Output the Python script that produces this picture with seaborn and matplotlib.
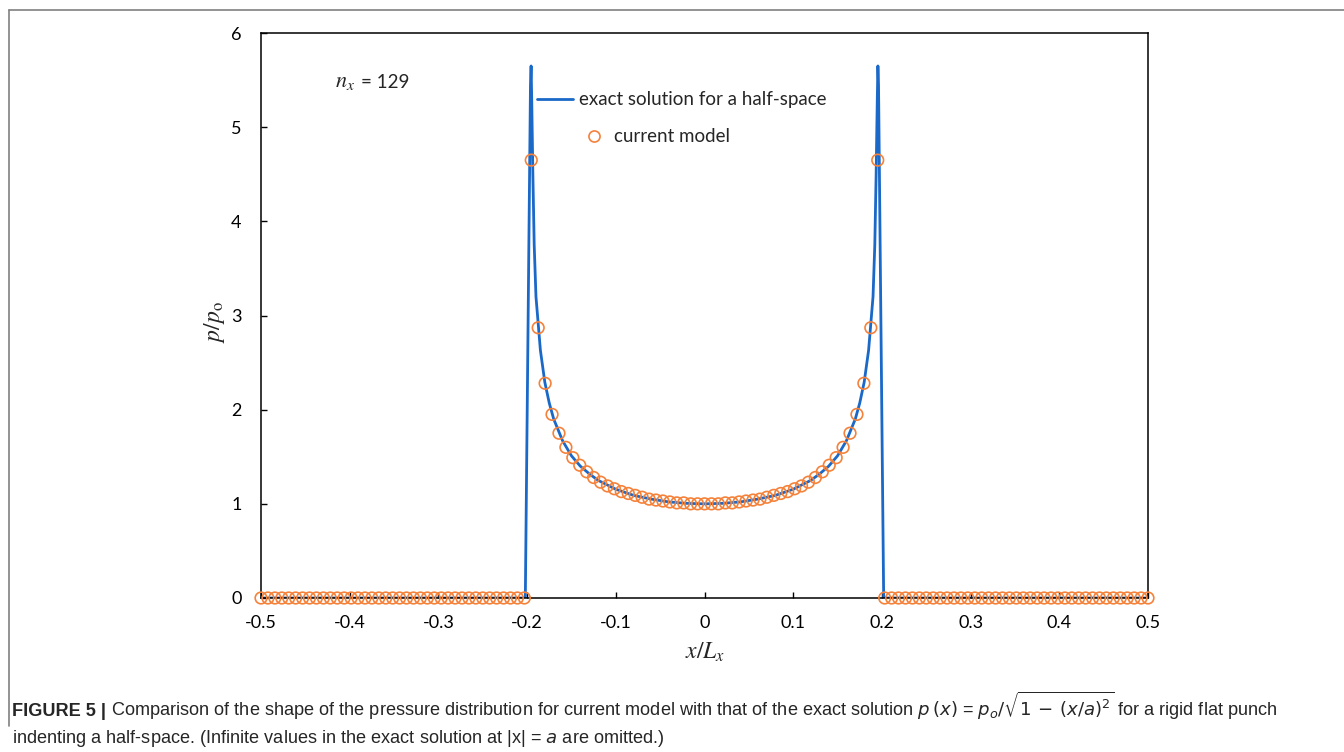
import numpy as np
import pandas as pd
import matplotlib.pyplot as plt
import seaborn as sns
from matplotlib import font_manager
from matplotlib.lines import Line2D

# grid of the current model (n_x = 129 nodes across -0.5..0.5)
x_model = np.linspace(-0.5, 0.5, 129)
# p/p0: zeros outside the punch, bowl inside
y_outside = [0.0] * 39
y_inside = [4.65, 2.87, 2.28, 1.95, 1.75, 1.60, 1.49, 1.41, 1.34, 1.28,
            1.23, 1.19, 1.16, 1.13, 1.11, 1.09, 1.07, 1.05, 1.04, 1.03,
            1.02, 1.01, 1.01, 1.00, 1.00, 1.00, 1.00, 1.00, 1.01, 1.01,
            1.02, 1.03, 1.04, 1.05, 1.07, 1.09, 1.11, 1.13, 1.16, 1.19,
            1.23, 1.28, 1.34, 1.41, 1.49, 1.60, 1.75, 1.95, 2.28, 2.87,
            4.65]
y_model = y_outside + y_inside + y_outside

# exact half-space solution
x_exact = [-0.5, -0.202, -0.1962, -0.1955, -0.1948, -0.1935, -0.192, -0.19,
           -0.185, -0.18, -0.175, -0.17, -0.16, -0.15, -0.14, -0.13, -0.12,
           -0.10, -0.08, -0.06, -0.04, -0.02, 0.0,
           0.02, 0.04, 0.06, 0.08, 0.10, 0.12, 0.13, 0.14, 0.15, 0.16, 0.17,
           0.175, 0.18, 0.185, 0.19, 0.192, 0.1935, 0.1948, 0.1955, 0.1962,
           0.202, 0.5]
y_exact = [0.0, 0.0, 5.45, 5.65, 5.30, 4.50, 3.75, 3.20,
           2.63, 2.29, 2.07, 1.90, 1.67, 1.51, 1.40, 1.32, 1.25,
           1.155, 1.09, 1.05, 1.02, 1.005, 1.0,
           1.005, 1.02, 1.05, 1.09, 1.155, 1.25, 1.32, 1.40, 1.51, 1.67, 1.90,
           2.07, 2.29, 2.63, 3.20, 3.75, 4.50, 5.30, 5.65, 5.45,
           0.0, 0.0]

x_ticks = [-0.5, -0.4, -0.3, -0.2, -0.1, 0.0, 0.1, 0.2, 0.3, 0.4, 0.5]
y_ticks = [0, 1, 2, 3, 4, 5, 6]

df_model = pd.DataFrame({"x": x_model, "p": y_model})
df_exact = pd.DataFrame({"x": x_exact, "p": y_exact})

sns.set_style("white")
plt.rcParams["font.family"] = ["Lato", "DejaVu Sans"]
plt.rcParams["mathtext.fontset"] = "stix"

W, H = 1344, 752
fig = plt.figure(figsize=(W / 100, H / 100), dpi=100)
ax = fig.add_axes([261 / W, 1 - 598 / H, (1148 - 261) / W, (598 - 33) / H])

blue = "#1a68c8"
orange = "#f5823a"

sns.lineplot(data=df_exact, x="x", y="p", ax=ax, sort=False, estimator=None,
             color=blue, lw=2.0, legend=False, solid_joinstyle="round")
sns.scatterplot(data=df_model, x="x", y="p", ax=ax, marker="o", s=70,
                facecolor="none", edgecolor=orange, linewidth=1.2,
                clip_on=False, zorder=3, legend=False)

ax.set_xlim(-0.5, 0.5)
ax.set_ylim(0, 6)
ax.set_xticks(x_ticks)
ax.set_xticklabels([f"{t:g}" for t in x_ticks])
ax.set_yticks(y_ticks)
ax.tick_params(direction="in", length=4, width=1, colors="black",
               labelsize=13, top=False, right=False, bottom=True, left=True)
ax.tick_params(axis="x", pad=12)
ax.tick_params(axis="y", pad=14)
for s in ax.spines.values():
    s.set_color("black")
    s.set_linewidth(1.1)

ax.set_xlabel("")
ax.set_ylabel("")
fig.text(705 / W, 1 - 652 / H, r"$x/L_x$", fontsize=17, ha="center", va="center")
fig.text(215 / W, 1 - 322 / H, r"$p/p_\mathrm{o}$", fontsize=17, ha="center",
         va="center", rotation=90)
ax.text((335 - 261) / 886, (598 - 82) / 565, r"$n_x$", fontsize=16,
        transform=ax.transAxes, va="center", ha="left")
ax.text((361 - 261) / 886, (598 - 82) / 565, "= 129", fontsize=13.5,
        transform=ax.transAxes, va="center", ha="left")

# legend, two pieces so the marker sits where it does in the original
h_line = Line2D([], [], color=blue, lw=2.0)
h_mark = Line2D([], [], ls="none", marker="o", ms=8, mfc="none",
                mec=orange, mew=1.2)
leg1 = ax.legend([h_line], ["exact solution for a half-space"], loc="center left",
                 bbox_to_anchor=((537 - 261) / 886, (598 - 100) / 565),
                 frameon=False, fontsize=13.5, handlelength=1.9,
                 handletextpad=0.35, borderpad=0, borderaxespad=0)
ax.add_artist(leg1)
ax.legend([h_mark], ["current model"], loc="center left",
          bbox_to_anchor=((576 - 261) / 886, (598 - 137) / 565),
          frameon=False, fontsize=13.5, handlelength=1.9,
          handletextpad=0.1, borderpad=0, borderaxespad=0)

# outer frame of the figure panel
fig.add_artist(Line2D([9 / W, 1.0], [1 - 10 / H, 1 - 10 / H], color="#808080", lw=1.2))
fig.add_artist(Line2D([9 / W, 9 / W], [1 - 10 / H, 1 - 726 / H], color="#808080", lw=1.2))

# caption
names = {f.name for f in font_manager.fontManager.ttflist}
cap_font = "Liberation Sans Narrow" if "Liberation Sans Narrow" in names else "Liberation Sans"
cap_size = 11.5 if cap_font == "Liberation Sans Narrow" else 10.0

t1 = fig.text(12 / W, 1 - 716 / H, "FIGURE 5 |", family=cap_font, weight="bold",
              fontsize=cap_size, va="baseline")
cap1 = ("Comparison of the shape of the pressure distribution for current model with "
        "that of the exact solution $p\\,(x)$ = $p_o/\\sqrt{1\\,-\\,(x/a)^2}$ "
        "for a rigid flat punch")
cap2 = ("indenting a half-space. (Infinite values in the exact solution at "
        "|x| = $a$ are omitted.)")
fig.canvas.draw()
bb = t1.get_window_extent()
t2 = fig.text((bb.x1 + 5) / W, 1 - 716 / H, cap1, family=cap_font, fontsize=cap_size,
              va="baseline", math_fontfamily="dejavusans")
t3 = fig.text(12 / W, 1 - 743 / H, cap2, family=cap_font, fontsize=cap_size,
              va="baseline", math_fontfamily="dejavusans")

# scale caption so the first line ends where it does in the original
fig.canvas.draw()
right = t2.get_window_extent().x1
scale = (1281 - 12) / (right - 12)
new = cap_size * scale
for t in (t1, t2, t3):
    t.set_fontsize(new)
fig.canvas.draw()
t2.set_x((t1.get_window_extent().x1 + 5) / W)

fig.savefig("out.png", dpi=100)
